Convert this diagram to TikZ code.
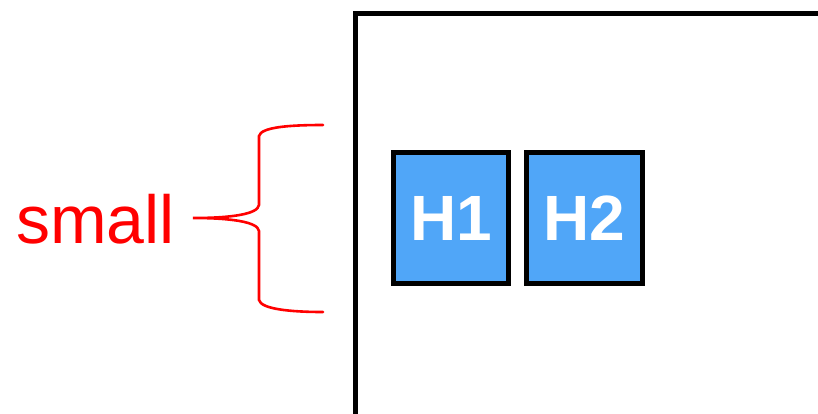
\documentclass[tikz,border=0pt]{standalone}
\usepackage{fontspec}
\setmainfont{Liberation Sans}
\definecolor{hblue}{RGB}{80,166,248}
\definecolor{bred}{RGB}{255,0,0}
\tikzset{
  hbox/.style={draw=black, line width=5pt, fill=hblue, minimum width=115pt, minimum height=131pt, inner sep=0pt, text=white, font=\fontsize{64}{64}\selectfont\bfseries},
  bracepath/.style={draw=bred, line width=2.6pt, line cap=round},
  frame/.style={draw=black, line width=5pt}
}
\begin{document}
\begin{tikzpicture}[x=1pt,y=-1pt]
\useasboundingbox (0,0) rectangle (818,413);
\clip (0,0) rectangle (818,413);
\draw[frame] (355,13.5) rectangle (900,520);
\node[hbox] (h1) at (451,218) {H1};
\node[hbox, minimum width=116pt] (h2) at (584.5,218) {H2};
\node[anchor=base, text=bred, font=\fontsize{68}{68}\selectfont, inner sep=0pt] (small) at (95.5,243) {small};
\coordinate (tip) at (193,218);
\coordinate (top) at (323,125);
\coordinate (bot) at (323,312);
\draw[bracepath] (top) .. controls (290,125) and (261,127) .. (259,136) -- (259,205)
  .. controls (258,214) and (232,218) .. (tip)
  .. controls (232,218) and (258,222) .. (259,231) -- (259,300)
  .. controls (261,309) and (290,312) .. (bot);
\end{tikzpicture}
\end{document}
